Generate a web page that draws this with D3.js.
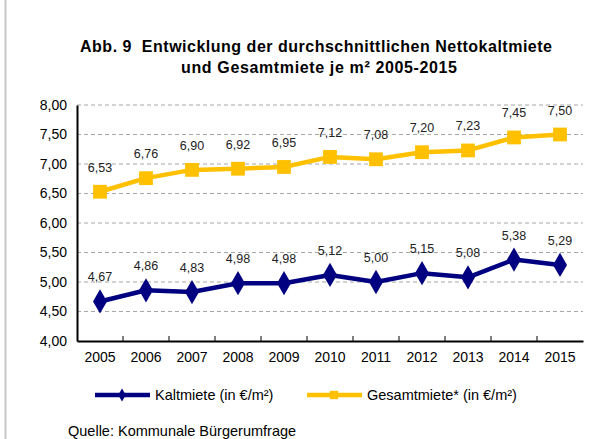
<!DOCTYPE html>
<html>
<head>
<meta charset="utf-8">
<script src="https://cdn.jsdelivr.net/npm/d3@7"></script>
<style>
  body { margin: 0; background: #fff; }
  svg { display: block; font-family: "Liberation Sans", Arial, sans-serif; }
</style>
</head>
<body>
<svg id="chart" width="608" height="439"></svg>
<script>
// Rent per m² (EUR), 2005-2015
const years = ["2005","2006","2007","2008","2009","2010","2011","2012","2013","2014","2015"];
const kaltmiete = [4.67, 4.86, 4.83, 4.98, 4.98, 5.12, 5.00, 5.15, 5.08, 5.38, 5.29];
const gesamtmiete = [6.53, 6.76, 6.90, 6.92, 6.95, 7.12, 7.08, 7.20, 7.23, 7.45, 7.50];
const yTicks = [4.0, 4.5, 5.0, 5.5, 6.0, 6.5, 7.0, 7.5, 8.0];
const seriesNames = ["Kaltmiete (in €/m²)", "Gesamtmiete* (in €/m²)"];

const svg = d3.select("#chart");
const fmt = v => d3.format(".2f")(v).replace(".", ",");

const margin = { left: 77, right: 25, top: 105, bottom: 98 };
const W = 608, H = 439;

const x = d3.scaleBand().domain(years).range([margin.left, W - margin.right]);
const y = d3.scaleLinear().domain([4, 8]).range([H - margin.bottom, margin.top]);

// left frame line
svg.append("line").attr("x1", 5.5).attr("x2", 5.5).attr("y1", 0).attr("y2", H)
  .attr("stroke", "#c8c8c8").attr("stroke-width", 2);

// title
const title = svg.append("text").attr("text-anchor", "middle")
  .attr("font-weight", "bold").attr("font-size", 16).attr("fill", "#000")
  .attr("xml:space", "preserve");
title.append("tspan").attr("x", 316).attr("y", 52)
  .attr("textLength", 472).attr("lengthAdjust", "spacing")
  .text("Abb. 9\u00a0\u00a0Entwicklung der durchschnittlichen Nettokaltmiete");
title.append("tspan").attr("x", 319).attr("y", 73)
  .attr("textLength", 276).attr("lengthAdjust", "spacing")
  .text("und Gesamtmiete je m² 2005-2015");

// gridlines
svg.append("g").selectAll("line").data(yTicks.filter(d => d > 4)).join("line")
  .attr("x1", margin.left).attr("x2", W - margin.right)
  .attr("y1", d => y(d)).attr("y2", d => y(d))
  .attr("stroke", "#a6a6a6").attr("stroke-dasharray", "4,3").attr("stroke-width", 1);

// y axis
const yAxis = svg.append("g").attr("transform", `translate(${margin.left},0)`)
  .call(d3.axisLeft(y).tickValues(yTicks).tickFormat(fmt).tickSize(0).tickPadding(10));
yAxis.select(".domain").attr("stroke", "#000").attr("stroke-width", 2);
yAxis.selectAll("text").attr("font-size", 14).attr("fill", "#000")
  .attr("font-family", "Liberation Sans, Arial, sans-serif");

// x axis with ticks between categories pointing inward
const xAxis = svg.append("g").attr("transform", `translate(0,${y(4)})`)
  .call(d3.axisBottom(x).tickSize(0).tickPadding(11));
xAxis.select(".domain").attr("stroke", "#000").attr("stroke-width", 2);
xAxis.selectAll("text").attr("font-size", 14).attr("fill", "#000")
  .attr("font-family", "Liberation Sans, Arial, sans-serif");
xAxis.append("g").selectAll("line").data(years.slice(1)).join("line")
  .attr("x1", d => x(d)).attr("x2", d => x(d)).attr("y1", 0).attr("y2", -5)
  .attr("stroke", "#000").attr("stroke-width", 1);

const cx = d => x(d) + x.bandwidth() / 2;
const line = d3.line().x((d, i) => cx(years[i])).y(d => y(d));

function drawSeries(values, color, symbol, size) {
  svg.append("path").datum(values).attr("d", line)
    .attr("fill", "none").attr("stroke", color).attr("stroke-width", 4.5)
    .attr("stroke-linejoin", "round");
  svg.append("g").selectAll("path").data(values).join("path")
    .attr("d", d3.symbol().type(symbol).size(size))
    .attr("transform", (d, i) => `translate(${cx(years[i])},${y(d)})`)
    .attr("fill", color);
  svg.append("g").selectAll("text").data(values).join("text")
    .attr("x", (d, i) => cx(years[i])).attr("y", d => y(d) - 20)
    .attr("text-anchor", "middle").attr("font-size", 12.5).attr("fill", "#222")
    .text(fmt);
}

drawSeries(gesamtmiete, "#FFC000", d3.symbolSquare, 190);
drawSeries(kaltmiete, "#000080", d3.symbolDiamond, 170);

// legend
const legend = [
  { name: seriesNames[0], color: "#000080", symbol: d3.symbolDiamond, size: 50, x: 95 },
  { name: seriesNames[1], color: "#FFC000", symbol: d3.symbolSquare, size: 70, x: 307 }
];
const lg = svg.append("g").selectAll("g").data(legend).join("g")
  .attr("transform", d => `translate(${d.x},395)`);
lg.append("line").attr("x1", 0).attr("x2", 55).attr("y1", 0).attr("y2", 0)
  .attr("stroke", d => d.color).attr("stroke-width", 4.5);
lg.append("path").attr("transform", "translate(27,0)")
  .attr("d", d => d3.symbol().type(d.symbol).size(d.size)())
  .attr("fill", d => d.color);
lg.append("text").attr("x", 60).attr("y", 5).attr("font-size", 14.5).attr("fill", "#000")
  .text(d => d.name);

// source
svg.append("text").attr("x", 68).attr("y", 436).attr("font-size", 14.5).attr("fill", "#000")
  .text("Quelle: Kommunale Bürgerumfrage");
</script>
</body>
</html>
